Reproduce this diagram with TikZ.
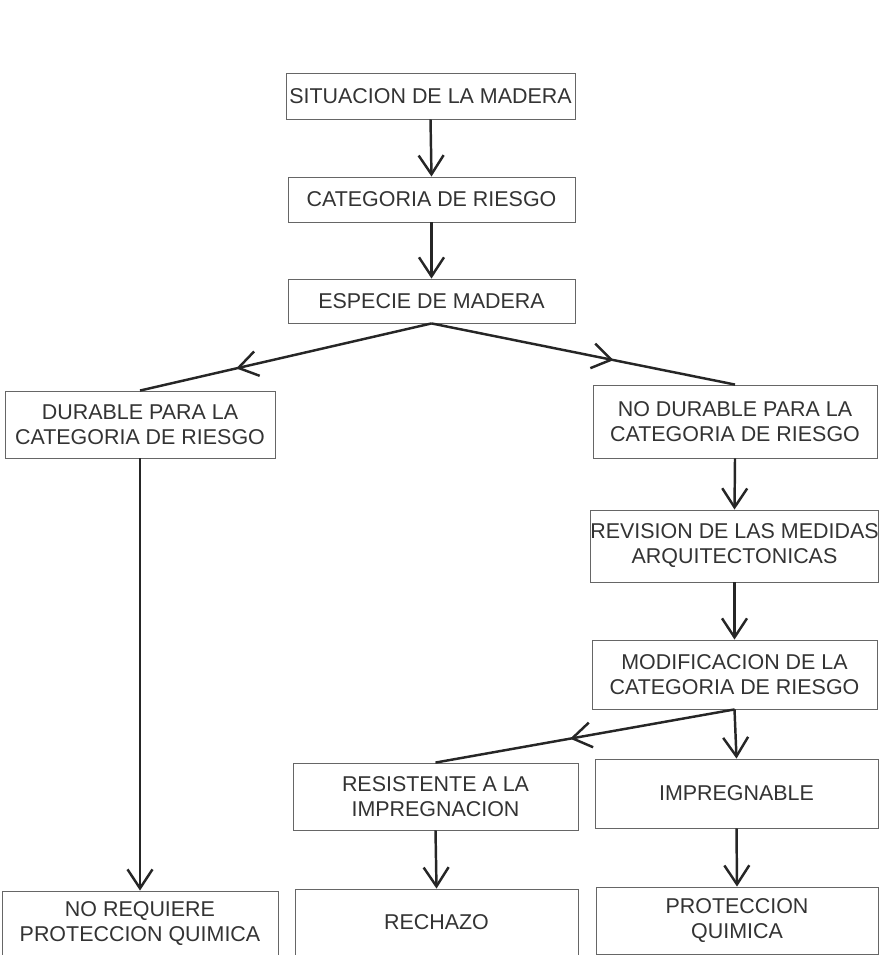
\documentclass[tikz,border=0pt]{standalone}
\usepackage{fontspec}
\setmainfont{Liberation Sans}
\usetikzlibrary{arrows.meta,decorations.markings}

\def\barb{Straight Barb[length=0.38cm,width=0.5cm]}

\begin{document}
\begin{tikzpicture}[x=0.02cm, y=-0.02cm,
    box/.style={draw=black!60, line width=0.5pt, inner sep=0pt, align=center,
      text=black!80, font=\fontsize{12.2}{14.2}\selectfont},
    flow/.style={draw=black!85, line width=1.4pt, -{\barb}},
    midflow/.style={draw=black!85, line width=1.4pt, postaction={decorate},
      decoration={markings, mark=at position #1 with {\arrow{\barb}}}}]
  \useasboundingbox (0,0) rectangle (879,955);
  % main column
  \node[box, minimum width=5.78cm, minimum height=0.92cm] (sit) at (430.5,96) {SITUACION DE LA MADERA};
  \node[box, minimum width=5.74cm, minimum height=0.90cm] (cat) at (431.5,199.5) {CATEGORIA DE RIESGO};
  \node[box, minimum width=5.74cm, minimum height=0.88cm] (esp) at (431.5,301) {ESPECIE DE MADERA};
  % durable or not
  \node[box, minimum width=5.40cm, minimum height=1.34cm] (dur) at (140,424.5) {DURABLE PARA LA\\CATEGORIA DE RIESGO};
  \node[box, minimum width=5.68cm, minimum height=1.46cm] (nod) at (735,421.5) {NO DURABLE PARA LA\\CATEGORIA DE RIESGO};
  \node[box, minimum width=5.70cm, minimum height=1.44cm] (rev) at (734.5,546) {REVISION DE LAS MEDIDAS\\ARQUITECTONICAS};
  \node[box, minimum width=5.70cm, minimum height=1.38cm] (mod) at (734.5,674.5) {MODIFICACION DE LA\\CATEGORIA DE RIESGO};
  \node[box, minimum width=5.70cm, minimum height=1.34cm] (res) at (435.5,796.5) {RESISTENTE A LA\\IMPREGNACION};
  \node[box, minimum width=5.66cm, minimum height=1.38cm] (imp) at (736.5,793.5) {IMPREGNABLE};
  % results
  \node[box, minimum width=5.52cm, minimum height=1.30cm] (nrq) at (140,923.5) {NO REQUIERE\\PROTECCION QUIMICA};
  \node[box, minimum width=5.66cm, minimum height=1.32cm] (rec) at (436.5,922) {RECHAZO};
  \node[box, minimum width=5.64cm, minimum height=1.34cm] (pro) at (737,920.5) {PROTECCION\\QUIMICA};

  \draw[flow] (sit.south) -- (cat.north);
  \draw[flow] (cat.south) -- (esp.north);
  \draw[midflow=0.67] (esp.south) -- (dur.north);
  \draw[midflow=0.6] (esp.south) -- (nod.north);
  \draw[flow] (dur.south) -- (nrq.north);
  \draw[flow] (nod.south) -- (rev.north);
  \draw[flow] (rev.south) -- (mod.north);
  \draw[midflow=0.55] (mod.south) -- (res.north);
  \draw[flow] (mod.south) -- (imp.north);
  \draw[flow] (res.south) -- (rec.north);
  \draw[flow] (imp.south) -- (pro.north);
\end{tikzpicture}
\end{document}
